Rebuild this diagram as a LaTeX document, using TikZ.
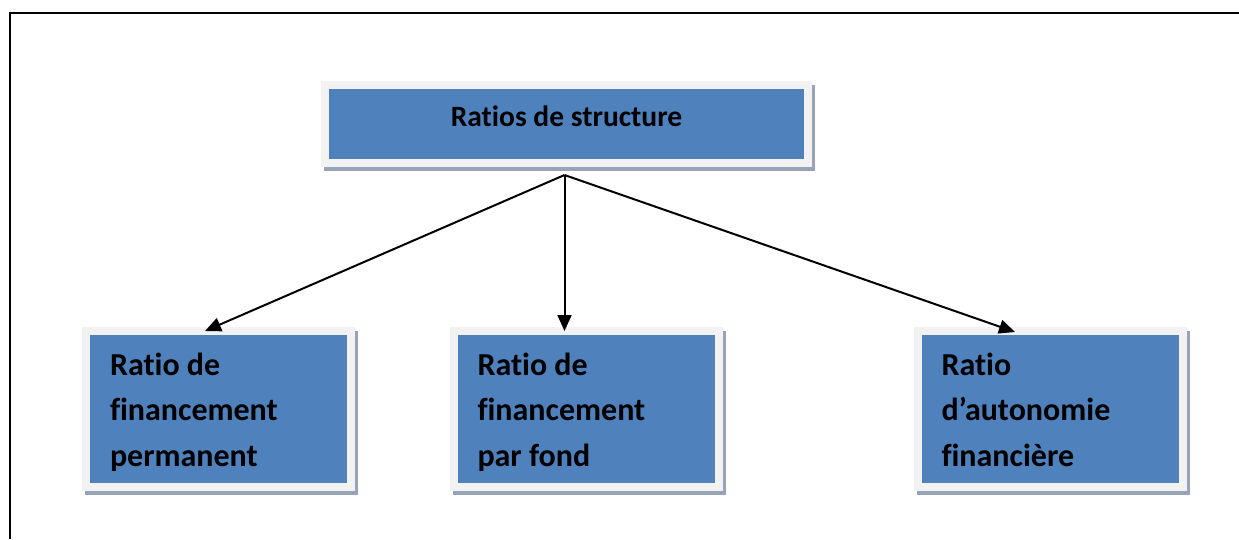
\documentclass[tikz,border=0pt]{standalone}
\usepackage{fontspec}
\setmainfont{Carlito}[RawFeature=-liga]
\usetikzlibrary{calc,arrows.meta}
\definecolor{boxblue}{HTML}{4F81BD}
\definecolor{outerg}{HTML}{F2F2F2}
\definecolor{shadowc}{HTML}{97A3B6}
\tikzset{
  boxbase/.style={fill=boxblue, draw=outerg, line width=8pt, rectangle,
    preaction={draw=shadowc, fill=shadowc, line width=8pt,
      transform canvas={xshift=3pt, yshift=-4pt}}},
  topbox/.style={boxbase, minimum width=483pt, minimum height=78pt, inner sep=0pt,
    font=\bfseries\fontsize{29.5}{35}\selectfont, text depth=16pt},
  subbox/.style={boxbase, minimum width=265pt, minimum height=156pt, inner xsep=24pt,
    inner ysep=0pt, text width=217pt, align=flush left,
    text height=24pt, text depth=92pt,
    font=\bfseries\fontsize{32}{45.5}\selectfont},
  conn/.style={line width=2pt, -{Triangle[length=16pt,width=14pt]}}
}
\begin{document}
\begin{tikzpicture}[x=1pt,y=-1pt]
\useasboundingbox (0,0) rectangle (1239,539);
\draw[line width=2pt] (10,539) -- (10,13) -- (1240,13);
\node[topbox] (top) at (566.5,124) {Ratios de structure};
\node[subbox] (l) at (218.5,409) {Ratio de\\financement\\permanent};
\node[subbox] (m) at (586,409) {Ratio de\\financement\\par fond};
\node[subbox] (r) at (1050,409) {Ratio\\d’autonomie\\financière};
\coordinate (apex) at ($(top.south)+(-2,8)$);
\draw[conn] (apex) -- ($(l.north)+(-13.5,4)$);
\draw[conn] (apex) -- ($(m.north)+(-21.5,4)$);
\draw[conn] (apex) -- ($(r.north)+(-35,5)$);
\end{tikzpicture}
\end{document}
